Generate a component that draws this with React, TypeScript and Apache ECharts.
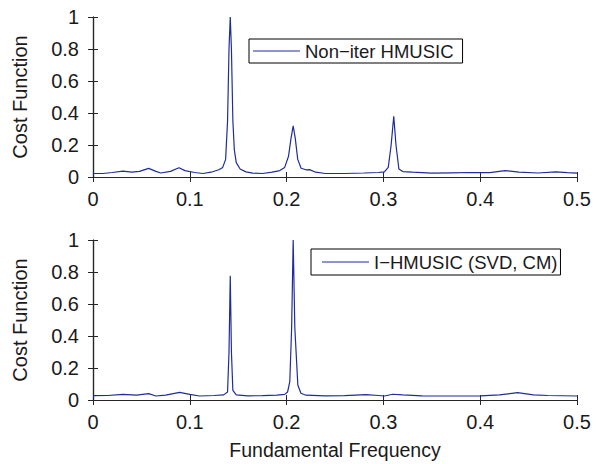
import React, { useEffect, useRef } from "react";
import * as echarts from "echarts";

// Top panel: Non-iter HMUSIC  (frequency, cost)
const topFreq = [0, 0.01, 0.02, 0.031, 0.04, 0.048, 0.0575, 0.065, 0.07, 0.08, 0.0888, 0.095, 0.105, 0.1135, 0.122, 0.13, 0.134, 0.137, 0.139, 0.1405, 0.1418, 0.143, 0.1445, 0.146, 0.148, 0.152, 0.158, 0.165, 0.175, 0.185, 0.193, 0.198, 0.202, 0.2045, 0.2068, 0.209, 0.2115, 0.215, 0.22, 0.2237, 0.23, 0.24, 0.26, 0.28, 0.295, 0.301, 0.305, 0.308, 0.3107, 0.313, 0.316, 0.32, 0.33, 0.35, 0.37, 0.39, 0.41, 0.4257, 0.44, 0.46, 0.478, 0.49, 0.5];
const topCost = [0.022, 0.022, 0.028, 0.037, 0.03, 0.035, 0.054, 0.035, 0.025, 0.035, 0.058, 0.04, 0.028, 0.022, 0.03, 0.045, 0.06, 0.11, 0.35, 0.8, 1.0, 0.8, 0.35, 0.17, 0.09, 0.05, 0.032, 0.024, 0.022, 0.03, 0.04, 0.06, 0.13, 0.24, 0.32, 0.24, 0.11, 0.055, 0.045, 0.046, 0.03, 0.022, 0.022, 0.025, 0.028, 0.032, 0.06, 0.2, 0.38, 0.2, 0.05, 0.034, 0.03, 0.024, 0.026, 0.028, 0.027, 0.04, 0.03, 0.025, 0.032, 0.027, 0.024];

// Bottom panel: I-HMUSIC (SVD, CM)
const botFreq = [0, 0.015, 0.031, 0.045, 0.0575, 0.065, 0.075, 0.0895, 0.1, 0.11, 0.125, 0.135, 0.139, 0.1405, 0.1418, 0.143, 0.1445, 0.148, 0.16, 0.175, 0.19, 0.198, 0.201, 0.2033, 0.2052, 0.2068, 0.2085, 0.2116, 0.2148, 0.22, 0.24, 0.26, 0.282, 0.295, 0.301, 0.3096, 0.32, 0.34, 0.37, 0.4, 0.42, 0.4386, 0.455, 0.47, 0.5];
const botCost = [0.027, 0.028, 0.035, 0.03, 0.04, 0.025, 0.03, 0.048, 0.035, 0.025, 0.028, 0.032, 0.05, 0.3, 0.777, 0.3, 0.06, 0.032, 0.026, 0.027, 0.03, 0.035, 0.05, 0.115, 0.45, 1.0, 0.45, 0.094, 0.042, 0.03, 0.026, 0.027, 0.033, 0.028, 0.025, 0.036, 0.032, 0.026, 0.025, 0.026, 0.032, 0.046, 0.032, 0.028, 0.025];

const seriesNames = ["Non\u2212iter HMUSIC", "I\u2212HMUSIC (SVD, CM)"];
const xLabel = "Fundamental Frequency";
const yLabel = "Cost Function";

const FONT = "'Liberation Sans', Arial, Helvetica, sans-serif";
const TXT = "#1a1a1a";
const AX = "#262626";
const LINE = "#1f2d99";

export default function App() {
  const ref = useRef<HTMLDivElement>(null);
  useEffect(() => {
    if (!ref.current) return;
    const chart = echarts.init(ref.current, undefined, { renderer: "svg" });
    const grids = [
      { left: 93, top: 17, width: 484, height: 160 },
      { left: 93, top: 240, width: 484, height: 160 },
    ];
    const xAxes: any[] = [];
    const yAxes: any[] = [];
    grids.forEach((_, i) => {
      xAxes.push({
        type: "value", gridIndex: i, min: 0, max: 0.5, interval: 0.1, position: "bottom",
        axisLine: { show: true, lineStyle: { color: AX, width: 1.2 } },
        axisTick: { show: true, inside: true, length: 5, lineStyle: { color: AX } },
        axisLabel: { color: TXT, fontSize: 20, fontFamily: FONT, margin: 12 },
        splitLine: { show: false },
        name: i === 1 ? xLabel : "",
        nameLocation: "middle", nameGap: 40,
        nameTextStyle: { color: TXT, fontSize: 19.5, fontFamily: FONT },
      });
      xAxes.push({
        type: "value", gridIndex: i, min: 0, max: 0.5, interval: 0.1, position: "top",
        axisLine: { show: true, lineStyle: { color: AX, width: 1.2 } },
        axisTick: { show: true, inside: true, length: 5, lineStyle: { color: AX } },
        axisLabel: { show: false }, splitLine: { show: false },
      });
      yAxes.push({
        type: "value", gridIndex: i, min: 0, max: 1, interval: 0.2, position: "left",
        axisLine: { show: true, lineStyle: { color: AX, width: 1.2 } },
        axisTick: { show: true, inside: true, length: 5, lineStyle: { color: AX } },
        axisLabel: { color: TXT, fontSize: 20, fontFamily: FONT, margin: 14 },
        splitLine: { show: false },
        name: yLabel, nameLocation: "middle", nameGap: 63, nameRotate: 90,
        nameTextStyle: { color: TXT, fontSize: 20, fontFamily: FONT },
      });
      yAxes.push({
        type: "value", gridIndex: i, min: 0, max: 1, interval: 0.2, position: "right",
        axisLine: { show: true, lineStyle: { color: AX, width: 1.2 } },
        axisTick: { show: true, inside: true, length: 5, lineStyle: { color: AX } },
        axisLabel: { show: false }, splitLine: { show: false },
      });
    });
    const mk = (f: number[], c: number[]) => f.map((v, k) => [v, c[k]]);
    const legendBase = {
      orient: "horizontal",
      icon: "rect",
      itemWidth: 47,
      itemHeight: 1.2,
      borderColor: "#000",
      borderWidth: 1,
      backgroundColor: "#fff",
      textStyle: { color: TXT, fontSize: 18.5, fontFamily: FONT, lineHeight: 20 },
    };
    chart.setOption({
      animation: false,
      backgroundColor: "#fff",
      grid: grids,
      xAxis: xAxes,
      yAxis: yAxes,
      legend: [
        { ...legendBase, data: [seriesNames[0]], left: 249, top: 39, padding: [2, 9, 2, 4] },
        { ...legendBase, data: [seriesNames[1]], left: 311, top: 249, padding: [3, 3, 3, 11] },
      ],
      series: [
        {
          name: seriesNames[0], type: "line", xAxisIndex: 0, yAxisIndex: 0,
          data: mk(topFreq, topCost), symbol: "none", showSymbol: false,
          lineStyle: { color: LINE, width: 1.2 }, itemStyle: { color: LINE },
        },
        {
          name: seriesNames[1], type: "line", xAxisIndex: 2, yAxisIndex: 2,
          data: mk(botFreq, botCost), symbol: "none", showSymbol: false,
          lineStyle: { color: LINE, width: 1.2 }, itemStyle: { color: LINE },
        },
      ],
    });
    return () => chart.dispose();
  }, []);
  return (
    <div
      ref={ref}
      style={{ position: "absolute", left: 0, top: 0, width: 609, height: 464 }}
    />
  );
}
